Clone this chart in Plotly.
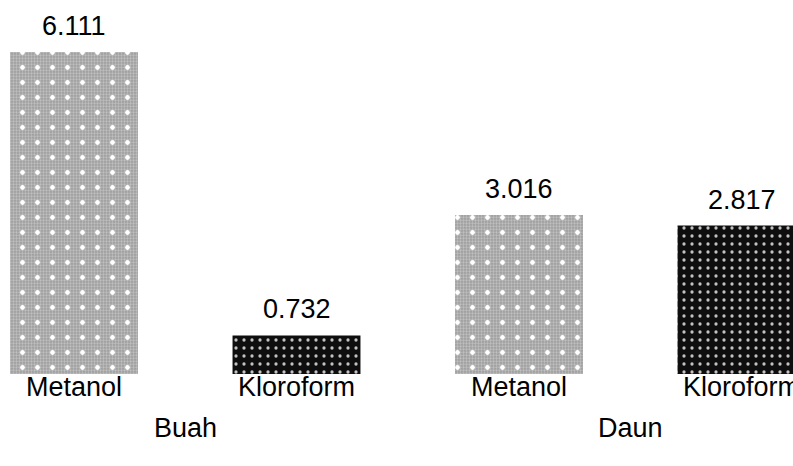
import plotly.graph_objects as go

# Extract yields per sample part and solvent
groups = ["Buah", "Daun"]
solvents = ["Metanol", "Kloroform", "Metanol", "Kloroform"]
values = [6.111, 0.732, 3.016, 2.817]
positions = [0, 1, 2, 3]

FONT = "Liberation Sans, Arial, sans-serif"
FS = 27

met_x = [p for p, s in zip(positions, solvents) if s == "Metanol"]
met_y = [v for v, s in zip(values, solvents) if s == "Metanol"]
klo_x = [p for p, s in zip(positions, solvents) if s == "Kloroform"]
klo_y = [v for v, s in zip(values, solvents) if s == "Kloroform"]

BAR_W = 0.575

fig = go.Figure()

# Metanol: fine grey checker texture
fig.add_trace(go.Bar(
    x=met_x, y=met_y, width=BAR_W,
    marker=dict(color="#b0b0b0", line=dict(width=0),
                pattern=dict(shape=".", size=3, solidity=0.45,
                             fgcolor="#e0e0e0", bgcolor="#9e9e9e")),
    hoverinfo="skip", showlegend=False,
))
# Metanol: white dots over the checker
fig.add_trace(go.Bar(
    x=met_x, y=met_y, width=BAR_W,
    marker=dict(color="rgba(0,0,0,0)", line=dict(width=0),
                pattern=dict(shape=".", size=15, solidity=0.08,
                             fgcolor="#ffffff", fgopacity=1,
                             bgcolor="rgba(0,0,0,0)")),
    hoverinfo="skip", showlegend=False,
))
# Kloroform: black with light dots
fig.add_trace(go.Bar(
    x=klo_x, y=klo_y, width=BAR_W,
    marker=dict(color="#111111", line=dict(width=0),
                pattern=dict(shape=".", size=8, solidity=0.13,
                             fgcolor="#c4c4c4", fgopacity=1,
                             bgcolor="#0e0e0e")),
    hoverinfo="skip", showlegend=False,
))

# Value labels above each bar
for p, v in zip(positions, values):
    fig.add_annotation(x=p, y=v, text=f"{v:.3f}", showarrow=False,
                       yanchor="bottom", yshift=9,
                       font=dict(family=FONT, size=FS, color="#000000"))

# Group labels under each solvent pair
for i, g in enumerate(groups):
    fig.add_annotation(x=2 * i + 0.5, y=0, yref="y", text=g, showarrow=False,
                       yanchor="top", yshift=-37,
                       font=dict(family=FONT, size=FS, color="#000000"))

px_per_unit = 222.5
x_left = -74 / px_per_unit
x_right = x_left + 793 / px_per_unit

fig.update_layout(
    width=793, height=466,
    margin=dict(l=0, r=0, t=0, b=92, autoexpand=False),
    paper_bgcolor="white", plot_bgcolor="white",
    barmode="overlay",
    font=dict(family=FONT, size=FS, color="#000000"),
    xaxis=dict(range=[x_left, x_right], tickvals=positions, ticktext=solvents,
               showgrid=False, zeroline=False, showline=False, ticks="",
               anchor="free", position=0.015, automargin=False,
               ticklabeloverflow="allow",
               tickfont=dict(family=FONT, size=FS, color="#000000")),
    yaxis=dict(range=[0, 374 / 52.7], visible=False, showgrid=False,
               automargin=False),
)

fig.write_html("out.html")
